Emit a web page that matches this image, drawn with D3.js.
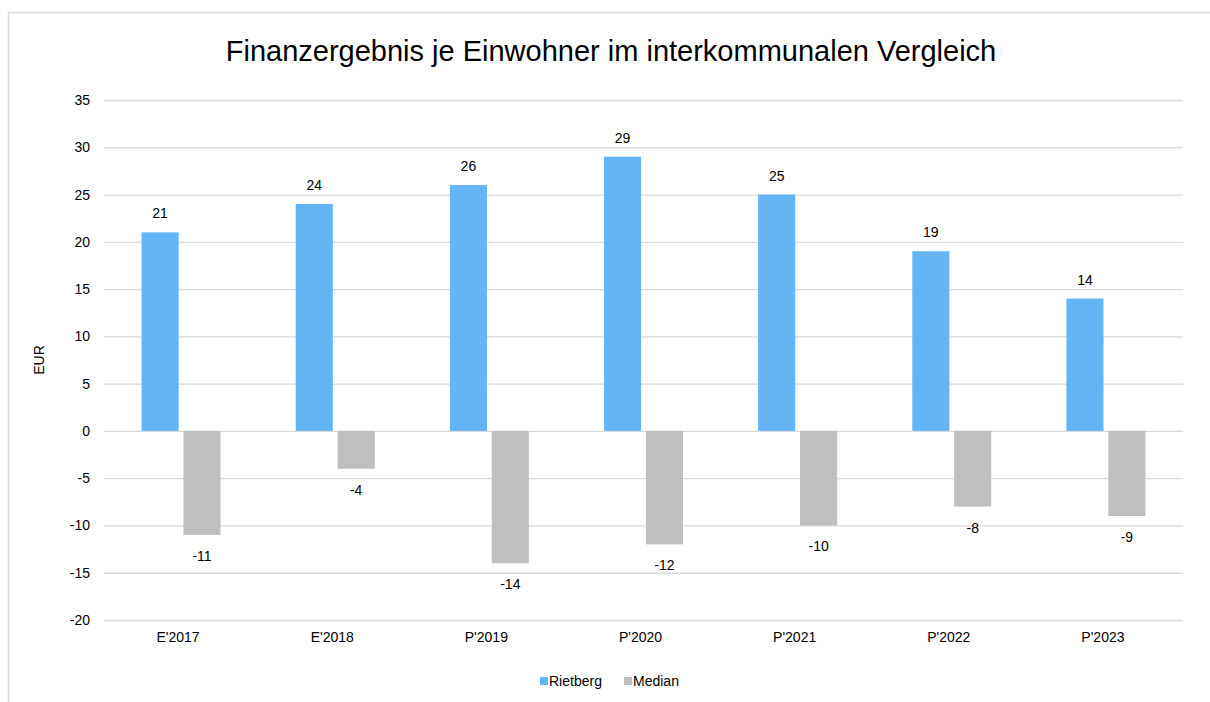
<!DOCTYPE html>
<html>
<head>
<meta charset="utf-8">
<script src="https://cdn.jsdelivr.net/npm/d3@7"></script>
<style>
  html, body { margin: 0; background: #fff; overflow: hidden; font-family: "Liberation Sans", Arial, sans-serif; }
  svg { display: block; }
</style>
</head>
<body>
<div id="chart"></div>
<script>
const categories = ["E'2017", "E'2018", "P'2019", "P'2020", "P'2021", "P'2022", "P'2023"];
const seriesNames = ['Rietberg', 'Median'];
const rietberg = [21, 24, 26, 29, 25, 19, 14];
const median = [-11, -4, -14, -12, -10, -8, -9];
const yTicks = [-20, -15, -10, -5, 0, 5, 10, 15, 20, 25, 30, 35];
const colors = ['#63b5f5', '#bfbfbf'];

const width = 1210;
const height = 702;
const plot = { left: 104, right: 1183, top: 100, bottom: 620 };

const svg = d3.select('#chart').append('svg')
  .attr('width', width)
  .attr('height', height);

// Outer frame: only the top and left edges fall inside the picture
svg.append('path')
  .attr('d', `M8.5,${height} V12.5 H${width}`)
  .attr('fill', 'none')
  .attr('stroke', '#d9d9d9')
  .attr('stroke-width', 1.5);

svg.append('text')
  .attr('x', 611).attr('y', 61)
  .attr('text-anchor', 'middle')
  .attr('font-size', 29)
  .attr('fill', '#000')
  .text('Finanzergebnis je Einwohner im interkommunalen Vergleich');

const x0 = d3.scaleBand()
  .domain(categories)
  .range([plot.left, plot.right]);

const x1 = d3.scaleBand()
  .domain(seriesNames)
  .range([0, 79])
  .paddingInner(0.115);

const y = d3.scaleLinear()
  .domain([-20, 35])
  .range([plot.bottom, plot.top]);

// Gridlines
svg.append('g')
  .attr('class', 'gridlines')
  .attr('transform', `translate(${plot.left}, 0)`)
  .call(d3.axisLeft(y).tickValues(yTicks).tickFormat('').tickSize(-(plot.right - plot.left)))
  .call((g) => g.select('.domain').remove())
  .call((g) => g.selectAll('line').attr('stroke', '#d9d9d9').attr('stroke-width', 1.3));

// Y axis labels
svg.append('g')
  .attr('transform', `translate(${plot.left}, 0)`)
  .call(d3.axisLeft(y).tickValues(yTicks).tickFormat((d) => String(d)).tickSize(0).tickPadding(14))
  .call((g) => g.select('.domain').remove())
  .call((g) => g.selectAll('text')
    .attr('font-size', 14)
    .attr('font-family', '"Liberation Sans", Arial, sans-serif')
    .attr('fill', '#000'));

// X axis labels
svg.append('g')
  .attr('transform', `translate(-3, ${plot.bottom})`)
  .call(d3.axisBottom(x0).tickSize(0).tickPadding(12))
  .call((g) => g.select('.domain').remove())
  .call((g) => g.selectAll('text')
    .attr('font-size', 14)
    .attr('font-family', '"Liberation Sans", Arial, sans-serif')
    .attr('fill', '#000'));

svg.append('text')
  .attr('transform', `translate(44, ${(plot.top + plot.bottom) / 2}) rotate(-90)`)
  .attr('text-anchor', 'middle')
  .attr('font-size', 14)
  .text('EUR');

const rows = categories.map((c, i) => ({ cat: c, values: [rietberg[i], median[i]] }));

const groups = svg.append('g').selectAll('g')
  .data(rows)
  .join('g')
  .attr('transform', (d) => `translate(${x0(d.cat) + (x0.bandwidth() - 79) / 2}, 0)`);

const bars = groups.selectAll('g')
  .data((d) => d.values.map((v, j) => ({ name: seriesNames[j], value: v, j })))
  .join('g');

bars.append('rect')
  .attr('x', (d) => x1(d.name))
  .attr('width', x1.bandwidth())
  .attr('y', (d) => y(Math.max(0, d.value)))
  .attr('height', (d) => Math.abs(y(d.value) - y(0)))
  .attr('fill', (d) => colors[d.j]);

bars.append('text')
  .attr('x', (d) => x1(d.name) + x1.bandwidth() / 2)
  .attr('y', (d) => d.value >= 0 ? y(d.value) - 14 : y(d.value) + 26)
  .attr('text-anchor', 'middle')
  .attr('font-size', 14)
  .text((d) => d.value);

// Legend
const legend = svg.append('g').attr('transform', 'translate(540, 682)');
const legendX = [0, 84];
seriesNames.forEach((name, i) => {
  legend.append('rect')
    .attr('x', legendX[i]).attr('y', -5)
    .attr('width', 8).attr('height', 8)
    .attr('fill', colors[i]);
  legend.append('text')
    .attr('x', legendX[i] + 9).attr('y', 4)
    .attr('font-size', 14)
    .text(name);
});
</script>
</body>
</html>
